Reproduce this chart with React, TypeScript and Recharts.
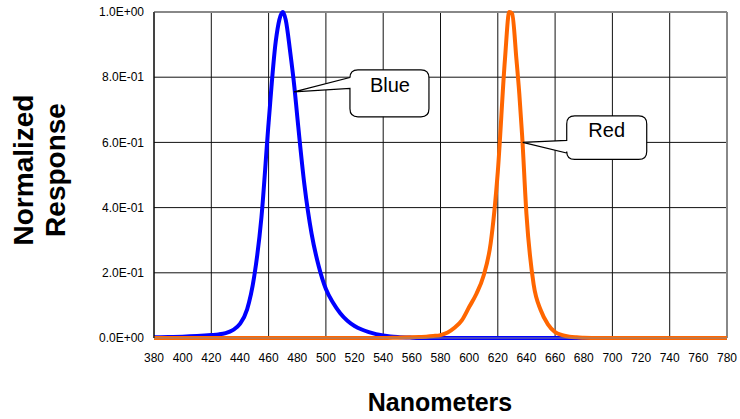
import React from 'react';
import { LineChart, Line, XAxis, YAxis, CartesianGrid, ReferenceLine, ReferenceDot } from 'recharts';

const X_TICKS = [380, 400, 420, 440, 460, 480, 500, 520, 540, 560, 580, 600, 620, 640, 660, 680, 700, 720, 740, 760, 780];
const Y_TICKS = [0, 0.2, 0.4, 0.6, 0.8, 1];

// blue LED spectrum
const BLUE_NM = [380, 390, 400, 410, 420, 425, 430, 435, 440, 445, 450, 455, 460, 465, 470, 472, 475, 478, 480, 485, 490, 495, 500, 505, 510, 515, 520, 525, 530, 535, 540, 545, 550, 560, 570, 580, 600, 620, 640, 660, 680, 700, 720, 740, 760, 780];
const BLUE_VAL = [0.002, 0.003, 0.004, 0.006, 0.009, 0.011, 0.015, 0.024, 0.043, 0.088, 0.19, 0.37, 0.66, 0.91, 1.0, 0.975, 0.88, 0.77, 0.68, 0.47, 0.32, 0.22, 0.15, 0.108, 0.076, 0.053, 0.037, 0.026, 0.018, 0.012, 0.008, 0.005, 0.003, 0.001, 0, 0, 0, 0, 0, 0, 0, 0, 0, 0, 0, 0];

// red LED spectrum
const RED_NM = [380, 400, 420, 440, 460, 480, 500, 520, 540, 550, 560, 565, 570, 575, 580, 585, 590, 595, 600, 605, 610, 615, 620, 625, 628, 630, 633, 635, 637, 640, 645, 650, 655, 660, 665, 670, 675, 680, 690, 700, 720, 740, 760, 780];
const RED_VAL = [0, 0, 0, 0, 0, 0, 0, 0, 0, 0.001, 0.002, 0.003, 0.004, 0.006, 0.009, 0.017, 0.032, 0.055, 0.095, 0.135, 0.19, 0.29, 0.51, 0.855, 1.0, 0.995, 0.855, 0.75, 0.62, 0.38, 0.165, 0.085, 0.042, 0.018, 0.009, 0.004, 0.002, 0.001, 0, 0, 0, 0, 0, 0];

const blueData = BLUE_NM.map((nm, i) => ({ nm, v: BLUE_VAL[i] }));
const redData = RED_NM.map((nm, i) => ({ nm, v: RED_VAL[i] }));

const FONT = 'Arial, "Liberation Sans", sans-serif';

const fmtSci = (v: number) => {
  const [m, e] = v.toExponential(1).split('e');
  const exp = parseInt(e, 10);
  return `${m}E${exp < 0 ? '-' : '+'}${String(Math.abs(exp)).padStart(2, '0')}`;
};

type CalloutSpec = {
  label: string;
  left: number;
  right: number;
  top: number;
  bottom: number;
  w0: number;
  w1: number;
  tx: number;
  ty: number;
};

const BLUE_CALLOUT: CalloutSpec = { label: 'Blue', left: 56, right: 135, top: -22, bottom: 25, w0: -14.4, w1: -3.4, tx: 96, ty: 0.5 };
const RED_CALLOUT: CalloutSpec = { label: 'Red', left: 44, right: 124, top: -26.5, bottom: 17, w0: -2, w1: 10.6, tx: 84, ty: -5 };

function Callout({ cx, cy, spec }: { cx?: number; cy?: number; spec: CalloutSpec }) {
  if (cx == null || cy == null) return null;
  const r = 8;
  const L = cx + spec.left;
  const R = cx + spec.right;
  const T = cy + spec.top;
  const B = cy + spec.bottom;
  const d = [
    `M${cx},${cy}`,
    `L${L},${cy + spec.w0}`,
    `L${L},${T + r}`,
    `Q${L},${T} ${L + r},${T}`,
    `L${R - r},${T}`,
    `Q${R},${T} ${R},${T + r}`,
    `L${R},${B - r}`,
    `Q${R},${B} ${R - r},${B}`,
    `L${L + r},${B}`,
    `Q${L},${B} ${L},${B - r}`,
    `L${L},${cy + spec.w1}`,
    'Z',
  ].join(' ');
  return (
    <g>
      <path d={d} fill="#fff" stroke="#000" strokeWidth={1.2} />
      <text x={cx + spec.tx} y={cy + spec.ty} textAnchor="middle" fontFamily={FONT} fontSize={20} fill="#000">
        {spec.label}
      </text>
    </g>
  );
}

export default function App() {
  return (
    <div style={{ position: 'absolute', left: 0, top: 0, width: 740, height: 419, background: '#fff' }}>
      <LineChart width={740} height={419} margin={{ top: 12, right: 13, bottom: 51, left: 94 }}>
        <CartesianGrid stroke="#111" strokeWidth={1} />
        <XAxis
          dataKey="nm"
          type="number"
          domain={[380, 780]}
          ticks={X_TICKS}
          allowDuplicatedCategory={false}
          height={30}
          stroke="#888"
          tickLine={false}
          tickSize={5}
          tickMargin={10}
          tick={{ fill: '#000', fontSize: 12, fontFamily: FONT }}
        />
        <YAxis
          type="number"
          domain={[0, 1]}
          ticks={Y_TICKS}
          width={60}
          stroke="#000"
          tickLine={false}
          tickSize={4}
          tickMargin={6}
          tickFormatter={fmtSci}
          tick={{ fill: '#000', fontSize: 12, fontFamily: FONT }}
        />
        <ReferenceLine y={1} stroke="#888" strokeWidth={2} />
        <ReferenceLine x={780} stroke="#888" strokeWidth={2} />
        <Line data={blueData} dataKey="v" type="monotone" stroke="#0000FF" strokeWidth={4} dot={false} isAnimationActive={false} />
        <Line data={redData} dataKey="v" type="monotone" stroke="#FF6600" strokeWidth={4} dot={false} isAnimationActive={false} />
        <ReferenceDot x={477.7} y={0.755} r={0} ifOverflow="visible" shape={(p: any) => <Callout {...p} spec={BLUE_CALLOUT} />} />
        <ReferenceDot x={637.4} y={0.6} r={0} ifOverflow="visible" shape={(p: any) => <Callout {...p} spec={RED_CALLOUT} />} />
      </LineChart>
      <svg width={740} height={419} style={{ position: 'absolute', left: 0, top: 0, pointerEvents: 'none' }}>
        <g fontFamily={FONT} fontWeight="bold" fill="#000" textAnchor="middle">
          <text x={440} y={411} fontSize={25}>Nanometers</text>
          <text transform="translate(33,170) rotate(-90)" fontSize={28}>Normalized</text>
          <text transform="translate(65,170) rotate(-90)" fontSize={28}>Response</text>
        </g>
      </svg>
    </div>
  );
}
